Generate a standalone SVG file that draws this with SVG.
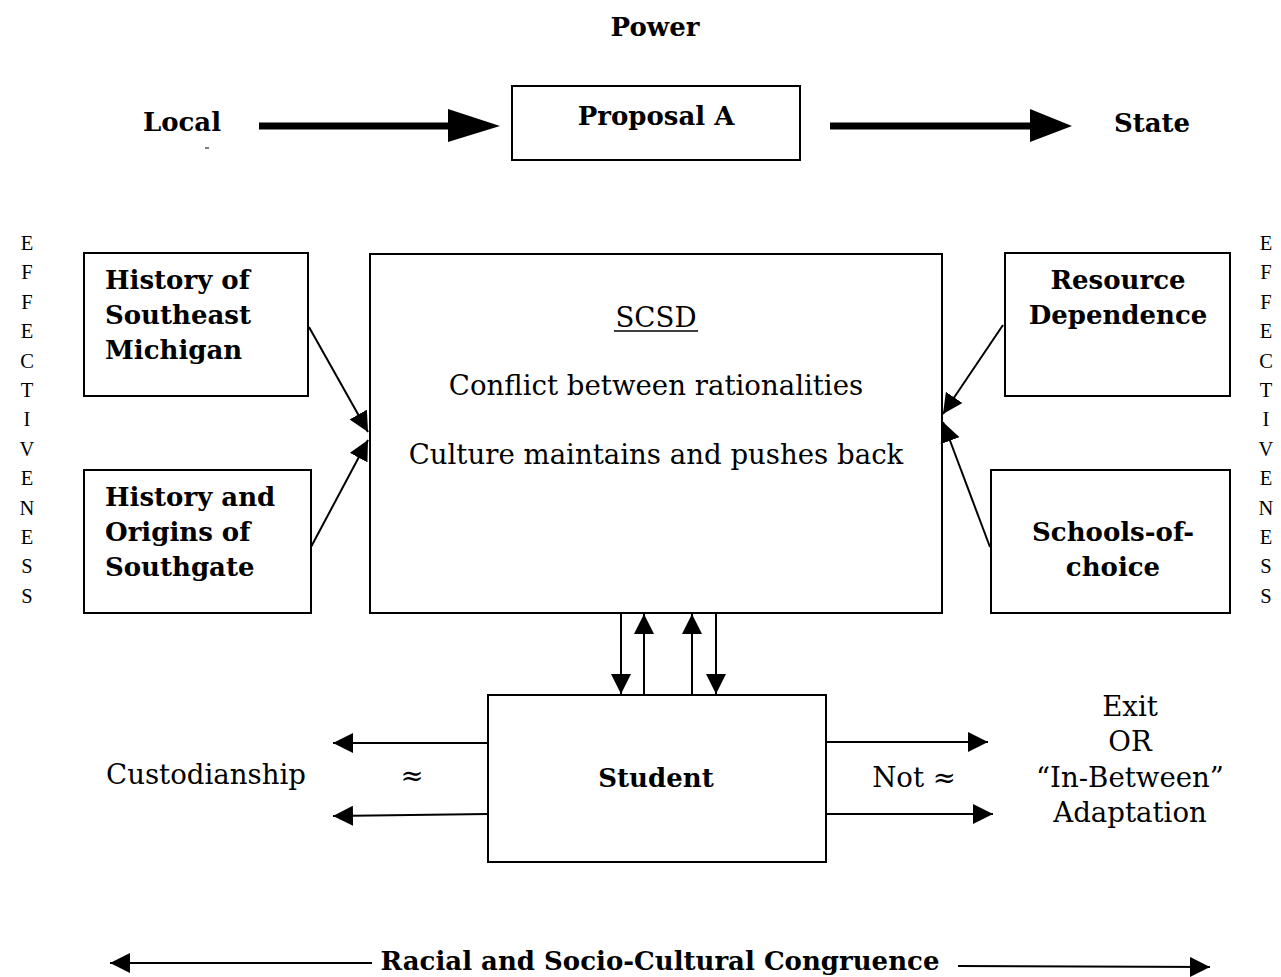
<svg xmlns="http://www.w3.org/2000/svg" width="1281" height="977" viewBox="0 0 1281 977">
  <style>
    .box { fill: #fff; stroke: #000; stroke-width: 2; }
    .b { font-family: "DejaVu Serif", "Liberation Serif", serif; font-weight: bold; font-size: 26px; fill: #000; }
    .r { font-family: "DejaVu Serif", "Liberation Serif", serif; font-size: 27.6px; fill: #000; }
    .v { font-family: "Liberation Serif", serif; font-size: 20.5px; fill: #000; text-anchor: middle; }
    .c { text-anchor: middle; }
    .ln { stroke: #000; stroke-width: 2; fill: none; }
    .thick { stroke: #000; stroke-width: 7; fill: none; }
  </style>
  <defs>
    <marker id="head" viewBox="0 0 20 20" refX="20" refY="10" markerWidth="20" markerHeight="20" markerUnits="userSpaceOnUse" orient="auto">
      <path d="M0,0 L20,10 L0,20 z" fill="#000"/>
    </marker>
  </defs>

  <rect width="1281" height="977" fill="#fff"/>

  <!-- top row: power shift -->
  <text class="b c" x="655" y="36">Power</text>
  <g id="local">
    <text class="b c" x="182" y="131">Local</text>
    <line x1="205" y1="148" x2="209" y2="148" stroke="#000" stroke-width="1"/>
  </g>
  <g id="proposal">
    <rect class="box" x="512" y="86" width="288" height="74"/>
    <text class="b c" x="656" y="125">Proposal A</text>
  </g>
  <g id="state">
    <text class="b c" x="1152" y="132">State</text>
  </g>

  <!-- side labels -->
  <text class="v" x="27" y="250"><tspan x="27">E</tspan><tspan x="27" dy="29.4">F</tspan><tspan x="27" dy="29.4">F</tspan><tspan x="27" dy="29.4">E</tspan><tspan x="27" dy="29.4">C</tspan><tspan x="27" dy="29.4">T</tspan><tspan x="27" dy="29.4">I</tspan><tspan x="27" dy="29.4">V</tspan><tspan x="27" dy="29.4">E</tspan><tspan x="27" dy="29.4">N</tspan><tspan x="27" dy="29.4">E</tspan><tspan x="27" dy="29.4">S</tspan><tspan x="27" dy="29.4">S</tspan></text>
  <text class="v" x="1266" y="250"><tspan x="1266">E</tspan><tspan x="1266" dy="29.4">F</tspan><tspan x="1266" dy="29.4">F</tspan><tspan x="1266" dy="29.4">E</tspan><tspan x="1266" dy="29.4">C</tspan><tspan x="1266" dy="29.4">T</tspan><tspan x="1266" dy="29.4">I</tspan><tspan x="1266" dy="29.4">V</tspan><tspan x="1266" dy="29.4">E</tspan><tspan x="1266" dy="29.4">N</tspan><tspan x="1266" dy="29.4">E</tspan><tspan x="1266" dy="29.4">S</tspan><tspan x="1266" dy="29.4">S</tspan></text>

  <!-- influence boxes -->
  <g id="history-se-michigan">
    <rect class="box" x="84" y="253" width="224" height="143"/>
    <text class="b" x="105" y="289">History of</text>
    <text class="b" x="105" y="324">Southeast</text>
    <text class="b" x="105" y="359">Michigan</text>
  </g>
  <g id="history-southgate">
    <rect class="box" x="84" y="470" width="227" height="143"/>
    <text class="b" x="105" y="506">History and</text>
    <text class="b" x="105" y="541">Origins of</text>
    <text class="b" x="105" y="576">Southgate</text>
  </g>
  <g id="resource-dependence">
    <rect class="box" x="1005" y="253" width="225" height="143"/>
    <text class="b c" x="1118" y="289">Resource</text>
    <text class="b c" x="1118" y="324">Dependence</text>
  </g>
  <g id="schools-of-choice">
    <rect class="box" x="991" y="470" width="239" height="143"/>
    <text class="b c" x="1113" y="541">Schools-of-</text>
    <text class="b c" x="1113" y="576">choice</text>
  </g>

  <!-- district -->
  <g id="scsd">
    <rect class="box" x="370" y="254" width="572" height="359"/>
    <text class="r c" x="656" y="327">SCSD</text>
    <line x1="614" y1="331" x2="698" y2="331" stroke="#000" stroke-width="1.5"/>
    <text class="r c" x="656" y="395">Conflict between rationalities</text>
    <text class="r c" x="656" y="464">Culture maintains and pushes back</text>
  </g>

  <!-- student -->
  <g id="student">
    <rect class="box" x="488" y="695" width="338" height="167"/>
    <text class="b c" x="656" y="787">Student</text>
  </g>
  <g id="custodianship">
    <text class="r c" x="206" y="784">Custodianship</text>
    <text class="r c" x="412" y="785" font-size="20">≈</text>
  </g>
  <g id="outcomes">
    <text class="r c" x="914" y="787">Not ≈</text>
    <text class="r c" x="1130" y="716">Exit</text>
    <text class="r c" x="1130" y="751">OR</text>
    <text class="r c" x="1130" y="787">“In-Between”</text>
    <text class="r c" x="1130" y="822">Adaptation</text>
  </g>

  <!-- bottom axis -->
  <text class="b c" x="660" y="970" font-size="26.4">Racial and Socio-Cultural Congruence</text>

  <g id="connectors">
    <!-- thick power arrows -->
    <line class="thick" x1="259" y1="126" x2="452" y2="126"/>
    <polygon points="448,109 500,126 448,142" fill="#000"/>
    <line class="thick" x1="830" y1="126" x2="1034" y2="126"/>
    <polygon points="1030,109 1072,126 1030,142" fill="#000"/>

    <!-- influences into SCSD -->
    <line class="ln" x1="309" y1="327" x2="368" y2="432" marker-end="url(#head)"/>
    <line class="ln" x1="311" y1="547" x2="368" y2="440" marker-end="url(#head)"/>
    <line class="ln" x1="1003" y1="325" x2="943" y2="414" marker-end="url(#head)"/>
    <line class="ln" x1="990" y1="547" x2="943" y2="422" marker-end="url(#head)"/>

    <!-- SCSD / student exchange -->
    <line class="ln" x1="621" y1="614" x2="621" y2="694" marker-end="url(#head)"/>
    <line class="ln" x1="644" y1="694" x2="644" y2="614" marker-end="url(#head)"/>
    <line class="ln" x1="692" y1="694" x2="692" y2="614" marker-end="url(#head)"/>
    <line class="ln" x1="716" y1="614" x2="716" y2="694" marker-end="url(#head)"/>

    <!-- student outcomes -->
    <line class="ln" x1="488" y1="743" x2="333" y2="743" marker-end="url(#head)"/>
    <line class="ln" x1="488" y1="814" x2="333" y2="816" marker-end="url(#head)"/>
    <line class="ln" x1="826" y1="742" x2="988" y2="742" marker-end="url(#head)"/>
    <line class="ln" x1="826" y1="814" x2="993" y2="814" marker-end="url(#head)"/>

    <!-- congruence axis -->
    <line class="ln" x1="372" y1="963" x2="110" y2="963" marker-end="url(#head)"/>
    <line class="ln" x1="958" y1="966" x2="1210" y2="967" marker-end="url(#head)"/>
  </g>
</svg>
